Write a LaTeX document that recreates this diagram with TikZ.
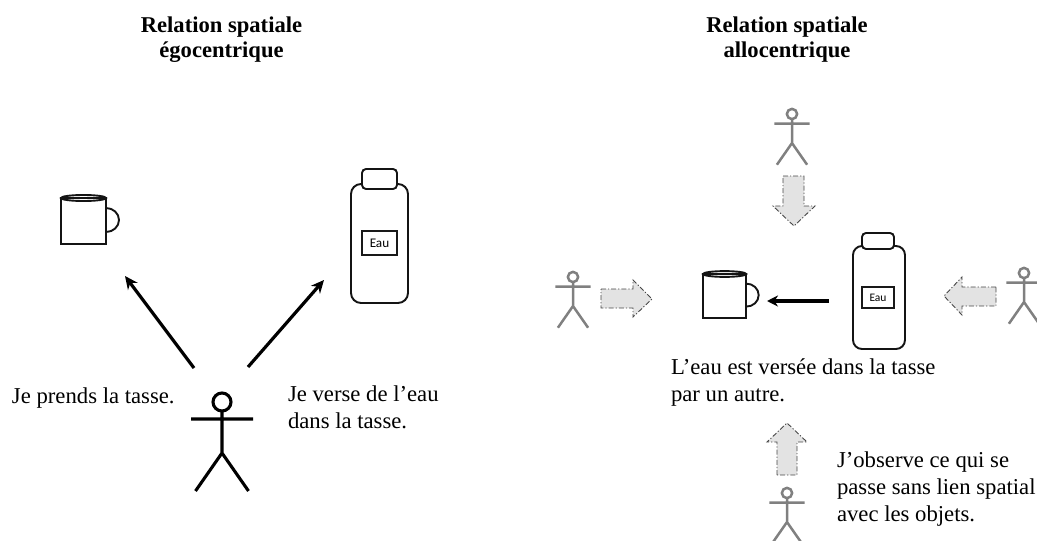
\documentclass[tikz,border=0pt]{standalone}
\usepackage{fontspec}
\setmainfont{Liberation Serif}
\newfontfamily\labelfont{Carlito}
\usetikzlibrary{arrows.meta}
\tikzset{
  txt/.style={inner sep=0pt,outer sep=0pt,text=black,align=left,font=\fontsize{22.7}{27}\selectfont},
  ttl/.style={inner sep=0pt,outer sep=0pt,text=black,align=center,font=\bfseries\fontsize{22.6}{25.5}\selectfont},
  obj/.style={line width=1.9pt,draw=black!92},
  eaulabel/.style={draw=black!90,line width=1.2pt,inner sep=0pt,font=\labelfont\fontsize{#1}{#1}\selectfont},
  act/.style={line width=3.2pt,draw=black,-{Stealth[length=13pt,width=12pt]}},
  blockarrow/.style={fill=black!11,draw=black!72,line width=.9pt,dash pattern=on 5pt off 2pt on 1.2pt off 2pt},
  figure/.pic={
    \draw (0,-9) -- (0,51) (-31,17) -- (31,17) (-26.5,89) -- (0,51) -- (26.5,89);
    \draw[fill=white] (0,0) circle (9);
  },
  blackfig/.style={draw=black,line width=3.1pt},
  grayfig/.style={draw=black!50,line width=2.5pt},
  mug/.pic={
    \draw[obj,fill=white] (0,0) rectangle (45,46);
    \draw[obj] (45,10) arc[start angle=-90,end angle=90,x radius=13,y radius=12];
    \draw[obj] (22.5,0) ellipse[x radius=22.5,y radius=3];
  }
}
\begin{document}
\begin{tikzpicture}[x=1pt,y=-1pt]
\useasboundingbox (0,0) rectangle (1037,541);
\clip (0,0) rectangle (1037,541);
% titles
\node[ttl,anchor=center] (t1) at (221.5,39.5) {Relation spatiale\\égocentrique};
\node[ttl,anchor=center] (t2) at (787,39.5) {Relation spatiale\\allocentrique};
% left part
\pic at (61,198) {mug};
\draw[obj,fill=white,rounded corners=10pt] (351,184) rectangle (408,303);
\draw[obj,fill=white,rounded corners=4pt] (362,169) rectangle (397,189);
\node[eaulabel=13.2,minimum width=35pt,minimum height=24pt] (eau1) at (379.5,243) {Eau};
\pic[blackfig] at (222,402) {figure};
\coordinate (a1s) at (194,368);
\coordinate (a1e) at (125,276);
\coordinate (a2s) at (248,367);
\coordinate (a2e) at (324,280);
\draw[act] (a1s) -- (a1e);
\draw[act] (a2s) -- (a2e);
\node[txt,anchor=base west] (j1) at (12,403) {Je prends la tasse.};
\node[txt,anchor=north west] (j2) at (288,386) {Je verse de l’eau\\dans la tasse.};
% right part
\pic[scale=.96] at (703,274) {mug};
\draw[obj,fill=white,rounded corners=9pt] (853,246) rectangle (905,349);
\draw[obj,fill=white,rounded corners=4pt] (862,233) rectangle (894,249);
\node[eaulabel=11.5,minimum width=32pt,minimum height=21pt] (eau2) at (878,297.5) {Eau};
\coordinate (a3s) at (829,301);
\coordinate (a3e) at (767,301);
\draw[act,-{Stealth[length=11pt,width=11pt]}] (a3s) -- (a3e);
\pic[grayfig,scale=.57] at (792,114) {figure};
\pic[grayfig,scale=.57] at (573,277) {figure};
\pic[grayfig,scale=.57] at (1024,273) {figure};
\pic[grayfig,scale=.57] at (787,493) {figure};
\draw[blockarrow] (783,176) -- (804,176) -- (804,206) -- (815,206) -- (794,226) -- (773,206) -- (783,206) -- cycle;
\draw[blockarrow] (601,289) -- (633,289) -- (633,280) -- (652,299) -- (633,317) -- (633,308) -- (601,308) -- cycle;
\draw[blockarrow] (996,287) -- (962,287) -- (962,277) -- (944,296) -- (962,315) -- (962,306) -- (996,306) -- cycle;
\draw[blockarrow] (777,475) -- (777,442) -- (767,442) -- (787,423) -- (807,442) -- (797,442) -- (797,475) -- cycle;
\node[txt,anchor=north west] (j3) at (671,359) {L’eau est versée dans la tasse\\par un autre.};
\node[txt,anchor=north west] (j4) at (837,452) {J’observe ce qui se\\passe sans lien spatial\\avec les objets.};
\end{tikzpicture}
\end{document}
